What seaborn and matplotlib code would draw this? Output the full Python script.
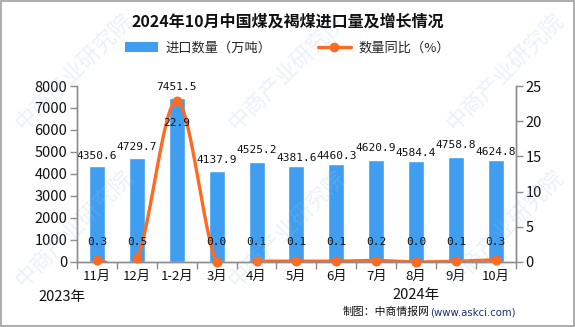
import numpy as np
import pandas as pd
import matplotlib
matplotlib.use("Agg")
import matplotlib.pyplot as plt
import seaborn as sns
from matplotlib.patches import Patch
from matplotlib.lines import Line2D

months = ["11月", "12月", "1-2月", "3月", "4月", "5月", "6月", "7月", "8月", "9月", "10月"]
imports = [4350.6, 4729.7, 7451.5, 4137.9, 4525.2, 4381.6, 4460.3, 4620.9, 4584.4, 4758.8, 4624.8]
yoy = [0.3, 0.5, 22.9, 0.0, 0.1, 0.1, 0.1, 0.2, 0.0, 0.1, 0.3]

BAR_C = "#3f9ef0"
LINE_C = "#ff6a21"
GRID_C = "#8c8c8c"

sns.set_theme(style="white")
plt.rcParams["font.family"] = ["Noto Sans CJK SC", "DejaVu Sans"]

df = pd.DataFrame({"month": months, "imports": imports, "yoy": yoy})

fig = plt.figure(figsize=(5.75, 3.27), dpi=100)
ax = fig.add_axes([0.134, 0.199, 0.763, 0.538])
ax2 = ax.twinx()

sns.barplot(data=df, x="month", y="imports", color=BAR_C, width=0.4,
            saturation=1, ax=ax, zorder=2)
ax.set_ylim(0, 8000)
ax.set_xlim(-0.5, len(months) - 0.5)
ax.set_yticks(range(0, 8001, 1000))
ax.set_xlabel("")
ax.set_ylabel("")


def smooth_curve(xs, ys, n=30):
    """Catmull-Rom spline through the points for a smoothed line."""
    xs = np.asarray(xs, float)
    ys = np.asarray(ys, float)
    px = np.concatenate([[2 * xs[0] - xs[1]], xs, [2 * xs[-1] - xs[-2]]])
    py = np.concatenate([[2 * ys[0] - ys[1]], ys, [2 * ys[-1] - ys[-2]]])
    outx, outy = [], []
    t = np.linspace(0, 1, n, endpoint=False)
    for i in range(1, len(px) - 2):
        for arr, out in ((px, outx), (py, outy)):
            p0, p1, p2, p3 = arr[i - 1], arr[i], arr[i + 1], arr[i + 2]
            seg = 0.5 * ((2 * p1) + (-p0 + p2) * t
                         + (2 * p0 - 5 * p1 + 4 * p2 - p3) * t ** 2
                         + (-p0 + 3 * p1 - 3 * p2 + p3) * t ** 3)
            out.extend(seg)
    outx.append(xs[-1])
    outy.append(ys[-1])
    return np.array(outx), np.array(outy)


xpos = np.arange(len(months))
sx, sy = smooth_curve(xpos, yoy)
sns.lineplot(x=sx, y=sy, color=LINE_C, lw=2.4, ax=ax2, sort=False, zorder=3)
ax2.scatter(xpos, yoy, s=38, color=LINE_C, zorder=4, clip_on=False)
ax2.set_ylim(0, 25)
ax2.set_yticks(range(0, 26, 5))

# value labels: stagger neighbours whose labels would collide
lab_kw = dict(ha="center", fontsize=8, family="DejaVu Sans Mono", color="#111111", zorder=5)
offsets = [260.0] * len(imports)
for i in range(1, len(imports)):
    if abs(imports[i] - imports[i - 1]) < 250:
        hi, lo = (i, i - 1) if imports[i] > imports[i - 1] else (i - 1, i)
        offsets[hi] = max(offsets[hi], 330.0)
        offsets[lo] = min(offsets[lo], 130.0)
for i, v in enumerate(imports):
    ax.text(i, v + offsets[i], f"{v:.1f}", va="bottom", **lab_kw)
for i, v in enumerate(yoy):
    if v > 10:
        ax2.text(i, v - 3.2, f"{v:.1f}", va="center", **lab_kw)
    else:
        ax2.text(i, 2.9, f"{v:.1f}", va="center", **lab_kw)

# axes styling
for a in (ax, ax2):
    a.spines["top"].set_visible(False)
    for s in ("left", "right", "bottom"):
        a.spines[s].set_color(GRID_C)
        a.spines[s].set_linewidth(1.0)
ax.tick_params(axis="y", direction="out", length=5, width=1, color=GRID_C,
               labelsize=10.5, labelcolor="#111111", pad=2, left=True)
ax2.tick_params(axis="y", direction="out", length=5, width=1, color=GRID_C,
                labelsize=10.5, labelcolor="#111111", pad=2, right=True)
ax.tick_params(axis="x", length=0, labelsize=9.5, labelcolor="#111111", pad=6)
ax.set_xticks(xpos, months)
ax.set_xticks(np.arange(-0.5, len(months), 1), minor=True)
ax.tick_params(axis="x", which="minor", direction="out", length=5, width=1,
               color=GRID_C, bottom=True)

# year labels and source
fig.text(0.108, 0.093, "2023年", fontsize=10.5, ha="center", va="center", color="#111111")
fig.text(0.723, 0.098, "2024年", fontsize=10.5, ha="center", va="center", color="#111111")
fig.text(0.747, 0.045, "制图：中商情报网", fontsize=7.8, ha="right", va="center", color="#111111")
fig.text(0.748, 0.045, "(www.askci.com)", fontsize=7.3, ha="left", va="center",
         color="#1c2f6e", family="DejaVu Sans")

# title
fig.text(0.5, 0.935, "2024年10月中国煤及褐煤进口量及增长情况", fontsize=11.5,
         weight="bold", ha="center", va="center", color="#111111")

# legend
handles = [Patch(facecolor=BAR_C, edgecolor="none", label="进口数量（万吨）"),
           Line2D([0], [0], color=LINE_C, lw=2.4, marker="o", ms=6, label="数量同比（%）")]
fig.legend(handles=handles, loc="center", bbox_to_anchor=(0.5, 0.853), ncol=2,
           frameon=False, fontsize=9.5, handlelength=2.5, columnspacing=3.5,
           handletextpad=0.6)

# faint watermark
for (wx, wy) in [(0.13, 0.78), (0.5, 0.78), (0.88, 0.78), (0.13, 0.3), (0.5, 0.3), (0.88, 0.3)]:
    fig.text(wx, wy, "中商产业研究院", fontsize=16, rotation=45, color="#9cc4e4",
             alpha=0.22, ha="center", va="center", zorder=0)

# figure frame
fig.patches.append(plt.Rectangle((0.001, 0.002), 0.997, 0.996, transform=fig.transFigure,
                                 fill=False, edgecolor="#a0a0a0", lw=1.2))

fig.savefig("out.png", dpi=100)
